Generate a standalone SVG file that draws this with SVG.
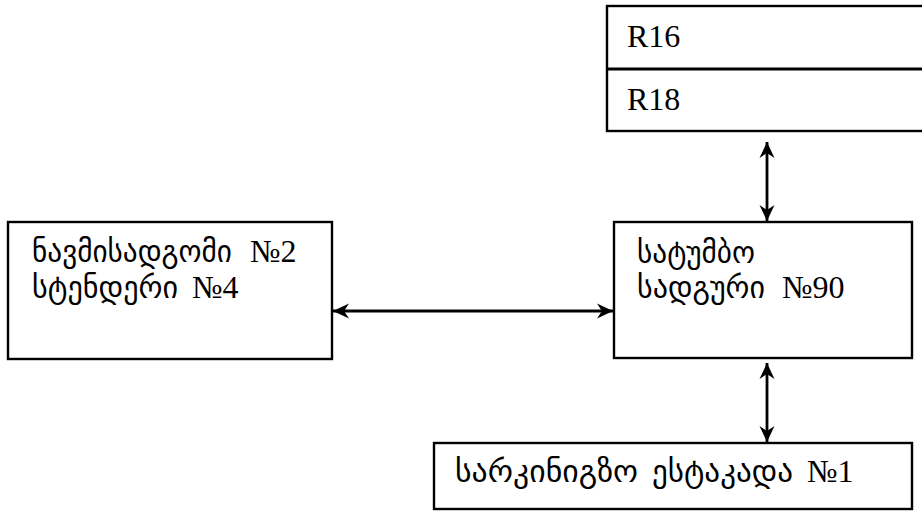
<svg xmlns="http://www.w3.org/2000/svg" width="922" height="511" viewBox="0 0 922 511">
  <defs>
    <style>
      .box { fill: #ffffff; stroke: #000000; stroke-width: 2.4; }
      .conn { stroke: #000000; stroke-width: 2.8; fill: none; marker-start: url(#arr); marker-end: url(#arr); }
      .lbl { font-family: "Liberation Serif", "DejaVu Sans", serif; font-size: 32px; fill: #000000; }
      .geo { font-family: "DejaVu Sans", "Noto Sans", sans-serif; font-size: 30px; }
    </style>
    <marker id="arr" viewBox="-18 -9 20 18" refX="0" refY="0" markerWidth="20" markerHeight="18" markerUnits="userSpaceOnUse" orient="auto-start-reverse">
      <path d="M0,0 L-16,-7.5 L-11,0 L-16,7.5 Z" fill="#000000"/>
    </marker>
  </defs>
  <rect width="922" height="511" fill="#ffffff"/>

  <g id="node-r16-r18">
    <rect class="box" x="607" y="6" width="330" height="125"/>
    <line x1="607" y1="69" x2="937" y2="69" stroke="#000000" stroke-width="3"/>
    <text class="lbl" x="627" y="47">R16</text>
    <text class="lbl" x="627" y="110">R18</text>
  </g>

  <g id="node-navmisadgomi">
    <rect class="box" x="8" y="222" width="324" height="137"/>
    <text class="lbl" y="262"><tspan class="geo" x="32" textLength="200" lengthAdjust="spacingAndGlyphs">ნავმისადგომი</tspan><tspan x="250">№2</tspan></text>
    <text class="lbl" y="298"><tspan class="geo" x="32" textLength="146" lengthAdjust="spacingAndGlyphs">სტენდერი</tspan><tspan x="192">№4</tspan></text>
  </g>

  <g id="node-satvirtho">
    <rect class="box" x="614" y="222" width="298" height="136"/>
    <text class="lbl" y="263"><tspan class="geo" x="637" textLength="118" lengthAdjust="spacingAndGlyphs">სატუმბო</tspan></text>
    <text class="lbl" y="298"><tspan class="geo" x="637" textLength="128" lengthAdjust="spacingAndGlyphs">სადგური</tspan><tspan x="782">№90</tspan></text>
  </g>

  <g id="node-estakada">
    <rect class="box" x="434" y="443" width="478" height="66"/>
    <text class="lbl" y="482"><tspan class="geo" x="455" textLength="183" lengthAdjust="spacingAndGlyphs">სარკინიგზო</tspan><tspan class="geo" x="652" textLength="141" lengthAdjust="spacingAndGlyphs">ესტაკადა</tspan><tspan x="807">№1</tspan></text>
  </g>

  <g id="connectors">
    <line class="conn" x1="767" y1="142" x2="767" y2="221"/>
    <line class="conn" x1="333" y1="311" x2="613" y2="311"/>
    <line class="conn" x1="767" y1="363" x2="767" y2="442"/>
  </g>
</svg>
